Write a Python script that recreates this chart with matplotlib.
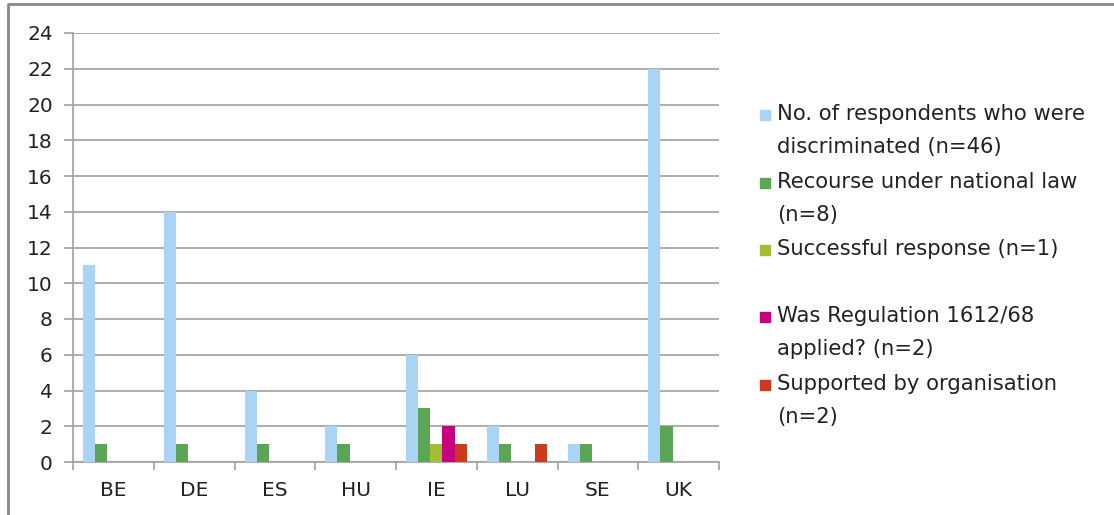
import matplotlib
matplotlib.use("Agg")
import matplotlib.pyplot as plt
import numpy as np
from matplotlib.lines import Line2D
from matplotlib.patches import Rectangle

categories = ["BE", "DE", "ES", "HU", "IE", "LU", "SE", "UK"]
respondents = [11, 14, 4, 2, 6, 2, 1, 22]
recourse = [1, 1, 1, 1, 3, 1, 1, 2]
successful = [0, 0, 0, 0, 1, 0, 0, 0]
regulation = [0, 0, 0, 0, 2, 0, 0, 0]
supported = [0, 0, 0, 0, 1, 1, 0, 0]
series_labels = [
    "No. of respondents who were\ndiscriminated (n=46)",
    "Recourse under national law\n(n=8)",
    "Successful response (n=1)",
    "Was Regulation 1612/68\napplied? (n=2)",
    "Supported by organisation\n(n=2)",
]
colors = ["#A9D4F4", "#5BA654", "#A3BE33", "#C6007E", "#CC3A1B"]
yticks = [0, 2, 4, 6, 8, 10, 12, 14, 16, 18, 20, 22, 24]

W, H = 1114, 515
fig = plt.figure(figsize=(W / 100, H / 100), dpi=100)
ax = fig.add_axes([73 / W, 1 - 462 / H, (719 - 73) / W, (462 - 33) / H])

series = [respondents, recourse, successful, regulation, supported]
x = np.arange(len(categories))
bw = 0.15
for i, (vals, c) in enumerate(zip(series, colors)):
    ax.bar(x + (i - 2) * bw, vals, width=bw, color=c, zorder=3, linewidth=0)

gray = "#A0A0A0"
ax.set_xlim(-0.5, len(categories) - 0.5)
ax.set_ylim(0, 24)
ax.set_yticks(yticks)
ax.set_yticklabels([str(v) for v in yticks])
ax.yaxis.grid(True, color=gray, linewidth=1.2, zorder=0)
ax.set_axisbelow(True)
for s in ["top", "right"]:
    ax.spines[s].set_visible(False)
for s in ["left", "bottom"]:
    ax.spines[s].set_color(gray)
    ax.spines[s].set_linewidth(1.2)

ax.tick_params(axis="y", length=6.5, width=1.2, color=gray, pad=8,
               labelsize=14.5, labelcolor="#222222")
ax.set_xticks(np.arange(len(categories) + 1) - 0.5)
ax.set_xticklabels([])
ax.tick_params(axis="x", which="major", length=6, width=1.2, color=gray)
ax.set_xticks(x, minor=True)
ax.set_xticklabels(categories, minor=True)
ax.tick_params(axis="x", which="minor", length=0, pad=14, labelsize=14.5,
               labelcolor="#222222")

# legend
first_line_centers = [115, 183, 250, 317, 385]
for lab, c, yc in zip(series_labels, colors, first_line_centers):
    fig.patches.append(Rectangle((760 / W, 1 - (yc + 5) / H), 10 / W, 10 / H,
                                 transform=fig.transFigure, color=c))
    fig.text(777 / W, 1 - (yc - 11) / H, lab, fontsize=15.2, va="top",
             ha="left", color="#222222", linespacing=1.8)

# outer border (top and left visible)
fig.lines.append(Line2D([8 / W, 8 / W, 1.0], [0.0, 1 - 4 / H, 1 - 4 / H],
                        transform=fig.transFigure, color="#888888", linewidth=2))

fig.savefig("out.png", dpi=100)
